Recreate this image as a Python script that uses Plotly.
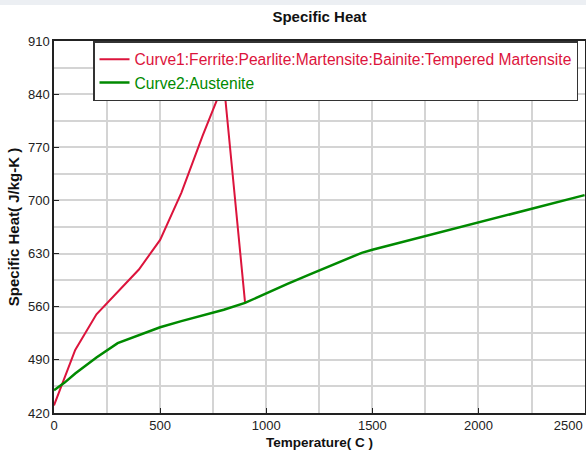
import plotly.graph_objects as go

# Data
curve1_temp = [0, 100, 200, 300, 400, 500, 600, 700, 800, 900]
curve1_cp = [430, 503, 550, 580, 609, 648, 710, 785, 855, 566]

curve2_temp = [0, 50, 100, 200, 300, 400, 500, 600, 700, 800, 900, 1000, 1100, 1200, 1300, 1400, 1450, 1500, 2000, 2500]
curve2_cp = [450, 460, 472, 493, 512, 523, 533, 541, 548, 556, 565, 578, 590, 602, 614, 626, 631, 635, 671, 707]

x_tickvals = [0, 500, 1000, 1500, 2000, 2500]
x_ticklabels = ["0", "500", "1000", "1500", "2000", "2500"]
# last label is pushed left (as in the reference) by an invisible padding suffix
x_ticktext = x_ticklabels[:-1] + [x_ticklabels[-1] + '<span style="color:rgba(0,0,0,0)">0000.</span>']

curve1_name = "Curve1:Ferrite:Pearlite:Martensite:Bainite:Tempered Martensite"
curve2_name = "Curve2:Austenite"
red = "#DC143C"
green = "#008A00"

FONT = "Liberation Sans, Arial, sans-serif"

fig = go.Figure()
fig.add_trace(go.Scatter(x=curve1_temp, y=curve1_cp, mode="lines",
                         name=f'<span style="color:{red}">{curve1_name}</span>',
                         line=dict(color=red, width=2)))
fig.add_trace(go.Scatter(x=curve2_temp, y=curve2_cp, mode="lines",
                         name=f'<span style="color:{green}">{curve2_name}</span>',
                         line=dict(color=green, width=2.5)))

axis_common = dict(showline=True, linecolor="#222222", linewidth=1.5, mirror=True,
                   ticks="inside", ticklen=5, tickcolor="#222222",
                   showgrid=True, gridcolor="#d4d4d4", gridwidth=1.5,
                   zeroline=False, ticklabeloverflow="allow", automargin=False,
                   tickfont=dict(family=FONT, size=13, color="#222222"))

fig.update_layout(
    width=586, height=454,
    margin=dict(l=54, r=1, t=41, b=41, autoexpand=False),
    paper_bgcolor="white", plot_bgcolor="white",
    title=dict(text="<b>Specific Heat</b>", x=(54 + 585) / 2 / 586, xanchor="center",
               y=1 - 17 / 454, yanchor="middle", yref="container",
               font=dict(family=FONT, size=15, color="#111111")),
    xaxis=dict(range=[0, 2502], tickmode="array", tickvals=x_tickvals, ticktext=x_ticktext,
               minor=dict(dtick=250, tick0=0, showgrid=True, gridcolor="#d4d4d4", gridwidth=1.5, ticks=""),
               title=dict(text="<b>Temperature( C )</b>", standoff=5,
                          font=dict(family=FONT, size=13.5, color="#111111")),
               **axis_common),
    yaxis=dict(range=[420, 910], dtick=70, tick0=420,
               minor=dict(dtick=35, showgrid=True, gridcolor="#d4d4d4", gridwidth=1.5, ticks=""),
               title=dict(text="<b>Specific Heat( J/kg-K )</b>", standoff=5,
                          font=dict(family=FONT, size=15, color="#111111")),
               **axis_common),
    legend=dict(x=(93 - 54) / 531, y=1, xanchor="left", yanchor="top",
                bgcolor="white", bordercolor="#333333", borderwidth=1.5,
                font=dict(family=FONT, size=15.6), tracegroupgap=0,
                itemwidth=30),
    showlegend=True,
)

# light strip at the top of the window
fig.add_shape(type="rect", xref="paper", yref="paper",
              x0=-54 / 531, x1=1.01, y0=1 + 36 / 372.3, y1=1 + 41 / 372.3,
              fillcolor="#eceff3", line=dict(width=0), layer="below")

fig.write_html("out.html")
